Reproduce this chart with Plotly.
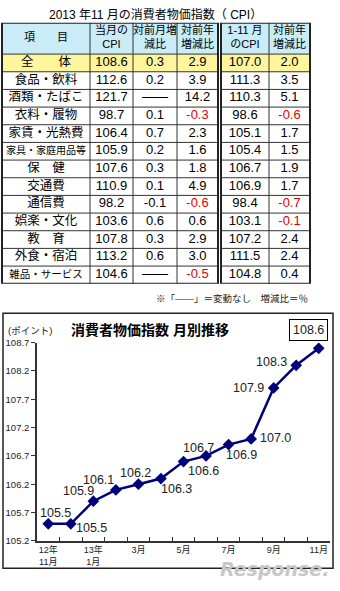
import plotly.graph_objects as go

# ---------------- data ----------------
items = ["全　　体", "食品・飲料", "酒類・たばこ", "衣料・履物", "家賃・光熱費", "家具・家庭用品等",
         "保　健", "交通費", "通信費", "娯楽・文化", "教　育", "外食・宿泊", "雑品・サービス"]
cpi_month = [108.6, 112.6, 121.7, 98.7, 106.4, 105.9, 107.6, 110.9, 98.2, 103.6, 107.8, 113.2, 104.6]
mom_change = ["0.3", "0.2", "――", "0.1", "0.7", "0.2", "0.3", "0.1", "-0.1", "0.6", "0.3", "0.6", "――"]
yoy_change = [2.9, 3.9, 14.2, -0.3, 2.3, 1.6, 1.8, 4.9, -0.6, 0.6, 2.9, 3.0, -0.5]
cpi_ytd = [107.0, 111.3, 110.3, 98.6, 105.1, 105.4, 106.7, 106.9, 98.4, 103.1, 107.2, 111.5, 104.8]
ytd_yoy_change = [2.0, 3.5, 5.1, -0.6, 1.7, 1.5, 1.9, 1.7, -0.7, -0.1, 2.4, 2.4, 0.4]
headers = ["項　　目", "当月の<br>CPI", "対前月増<br>減比", "対前年<br>増減比", "1-11 月<br>のCPI", "対前年<br>増減比"]

months = ["12年11月", "12月", "13年1月", "2月", "3月", "4月", "5月", "6月", "7月", "8月", "9月", "10月", "11月"]
month_ticktext = ["12年<br>11月", "", "13年<br>1月", "", "3月", "", "5月", "", "7月", "", "9月", "", "11月"]
cpi_trend = [105.5, 105.5, 105.9, 106.1, 106.2, 106.3, 106.6, 106.7, 106.9, 107.0, 107.9, 108.3, 108.6]
y_ticks = [105.2, 105.7, 106.2, 106.7, 107.2, 107.7, 108.2, 108.7]

# ---------------- style / layout ----------------
W, H = 340, 591
def px(x): return x / W
def py(y): return 1 - y / H

JP = "Liberation Sans, Arial, Noto Sans CJK JP, sans-serif"
HEAD_FILL = "#c9ecf7"
YELLOW = "#fff59c"
NAVY = "#00007a"
RED = "#e00000"
LINE = "#333333"

TABLE_TOP, HEAD_H, ROW_H = 17, 32, 18
n = len(items)
TABLE_H = HEAD_H + ROW_H * n
left_edges = [2, 90, 133, 177, 218]
right_edges = [221, 269, 310]
col_edges = [(left_edges[i], left_edges[i + 1]) for i in range(4)] + \
            [(right_edges[i], right_edges[i + 1]) for i in range(2)]
col_centers = [(a + b) / 2 for a, b in col_edges]

def fmt(vals): return [f"{v:.1f}" for v in vals]
def red_if_neg(vals): return [RED if v < 0 else "black" for v in vals]
row_y = [HEAD_H + ROW_H * (i + 0.5) for i in range(n)]
item_sizes = [10 if len(s) >= 8 else (10.5 if len(s) >= 7 else 12.5) for s in items]

fig = go.Figure()

columns = [
    (items, item_sizes, ["black"] * n),
    (fmt(cpi_month), [13] * n, ["black"] * n),
    (mom_change, [13] * n, ["black"] * n),
    (fmt(yoy_change), [13] * n, red_if_neg(yoy_change)),
    (fmt(cpi_ytd), [13] * n, ["black"] * n),
    (fmt(ytd_yoy_change), [13] * n, red_if_neg(ytd_yoy_change)),
]
for c, (texts, sizes, colors) in enumerate(columns):
    fig.add_trace(go.Scatter(
        x=[col_centers[c]] * n, y=row_y, text=texts, mode="text",
        textfont=dict(family=JP, size=sizes, color=colors),
        xaxis="x2", yaxis="y2", hoverinfo="skip", showlegend=False))
fig.add_trace(go.Scatter(
    x=col_centers, y=[HEAD_H / 2] * len(headers), text=headers, mode="text",
    textfont=dict(family=JP, size=11, color="black"),
    xaxis="x2", yaxis="y2", hoverinfo="skip", showlegend=False))

shapes = []
def tshape(**kw):
    d = dict(xref="x2", yref="y2", layer="below")
    d.update(kw)
    shapes.append(d)

for edges in (left_edges, right_edges):
    x0, x1 = edges[0], edges[-1]
    tshape(type="rect", x0=x0, x1=x1, y0=0, y1=HEAD_H, fillcolor=HEAD_FILL, line=dict(width=0))
    tshape(type="rect", x0=x0, x1=x1, y0=HEAD_H, y1=HEAD_H + ROW_H, fillcolor=YELLOW, line=dict(width=0))
    for k in range(n):
        y = HEAD_H + ROW_H * k
        tshape(type="line", x0=x0, x1=x1, y0=y, y1=y, line=dict(color=LINE, width=1), layer="above")
    for xe in edges[1:-1]:
        tshape(type="line", x0=xe, x1=xe, y0=0, y1=TABLE_H, line=dict(color=LINE, width=1), layer="above")
    tshape(type="rect", x0=x0, x1=x1, y0=0, y1=TABLE_H, line=dict(color="#222", width=2), layer="above")

# line chart
fig.add_trace(go.Scatter(
    x=months, y=cpi_trend, mode="lines+markers",
    line=dict(color=NAVY, width=2.5),
    marker=dict(symbol="diamond", size=9, color=NAVY),
    hoverinfo="skip", showlegend=False))

label_offsets = [(7, -11), (21, 4), (-15, -10), (-17, -10), (-3, -11), (16, 10), (20, 9),
                 (-8, -8), (13, 10), (24, -1), (-25, 0), (-25, -3), (-10, -18)]
annotations = []
for i, (m, v) in enumerate(zip(months, cpi_trend)):
    dx, dy = label_offsets[i]
    last = i == len(months) - 1
    a = dict(x=m, y=v, xref="x", yref="y", text=f"{v:.1f}", showarrow=False,
             xanchor="center", yanchor="middle",
             xshift=dx, yshift=-dy, font=dict(family=JP, size=12.5, color="#222"))
    if last:
        a.update(bordercolor="black", borderwidth=1, borderpad=3, bgcolor="white")
    annotations.append(a)

annotations += [
    dict(text="2013 年11 月の消費者物価指数（ CPI）", xref="paper", yref="paper",
         x=px(155), y=py(9), xanchor="center", yanchor="middle", showarrow=False,
         font=dict(family=JP, size=12, color="black")),
    dict(text="※「――」＝変動なし　増減比＝％", xref="paper", yref="paper",
         x=px(310), y=py(298), xanchor="right", yanchor="middle", showarrow=False,
         font=dict(family=JP, size=9.5, color="#222")),
    dict(text="<b>消費者物価指数 月別推移</b>", xref="paper", yref="paper",
         x=px(150), y=py(330), xanchor="center", yanchor="middle", showarrow=False,
         font=dict(family=JP, size=14, color="black")),
    dict(text="(ポイント)", xref="paper", yref="paper", xanchor="left", yanchor="middle",
         x=px(6), y=py(331), showarrow=False, font=dict(family=JP, size=9.5, color="#222")),
    dict(text="<i><b>Response.</b></i>", xref="paper", yref="paper",
         x=px(331), y=py(587), xanchor="right", yanchor="bottom", showarrow=False,
         font=dict(family="DejaVu Sans, sans-serif", size=19, color="#c8c8c8")),
]

shapes.append(dict(type="rect", xref="paper", yref="paper", x0=px(3), x1=px(333),
                   y0=py(573), y1=py(313), line=dict(color="#222", width=1.5)))

fig.update_layout(
    width=W, height=H, margin=dict(l=0, r=0, t=0, b=0),
    paper_bgcolor="white", plot_bgcolor="rgba(0,0,0,0)",
    xaxis=dict(domain=[px(37), px(330)], type="category", range=[-0.5, len(months) - 0.5],
               tickmode="array", tickvals=months, ticktext=month_ticktext, tickangle=0,
               tickson="boundaries", ticks="inside", ticklen=4, tickcolor=LINE,
               showline=True, linecolor=LINE, linewidth=1.5, showgrid=False, zeroline=False,
               tickfont=dict(family=JP, size=9, color="#222")),
    yaxis=dict(domain=[py(545), py(343)], range=[105.2, 108.7],
               tickmode="array", tickvals=y_ticks, ticktext=[f"{t:.1f}" for t in y_ticks],
               ticks="outside", ticklen=4, tickcolor=LINE,
               showline=True, linecolor=LINE, linewidth=1.5, showgrid=False, zeroline=False,
               tickfont=dict(family=JP, size=9.5, color="#222")),
    xaxis2=dict(domain=[0, 1], range=[0, W], visible=False, fixedrange=True),
    yaxis2=dict(domain=[py(TABLE_TOP + TABLE_H), py(TABLE_TOP)], range=[TABLE_H, 0],
                visible=False, fixedrange=True, anchor="x2"),
    shapes=shapes,
    annotations=annotations,
)

fig.write_html("out.html")
